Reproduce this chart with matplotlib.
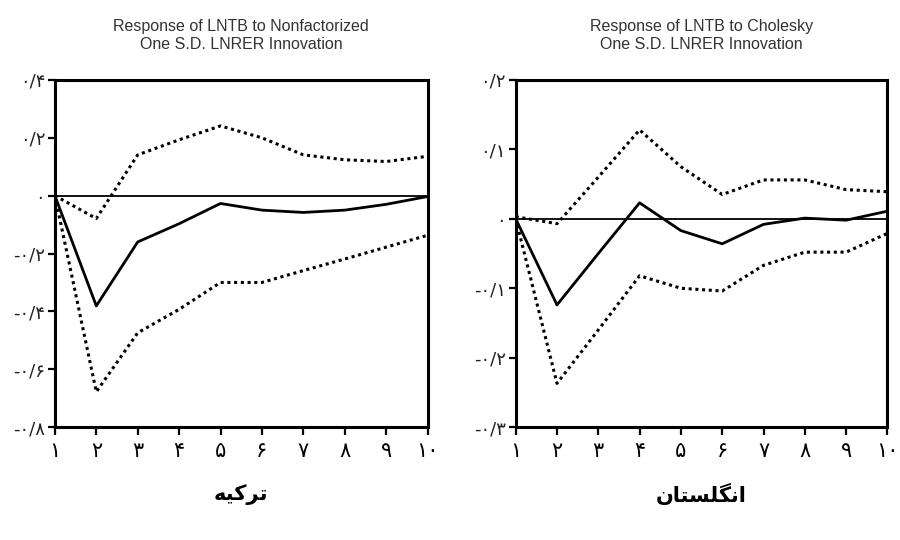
import numpy as np
import matplotlib
matplotlib.use("Agg")
import matplotlib.pyplot as plt

# horizon (periods)
periods = [1, 2, 3, 4, 5, 6, 7, 8, 9, 10]

# Turkey - response of LNTB to nonfactorized one S.D. LNRER innovation
tr_resp = [0.0, -0.381, -0.160, -0.097, -0.027, -0.050, -0.058, -0.050, -0.030, -0.003]
tr_upper = [0.0, -0.079, 0.141, 0.193, 0.241, 0.200, 0.141, 0.124, 0.118, 0.136]
tr_lower = [0.0, -0.678, -0.474, -0.393, -0.300, -0.300, -0.259, -0.219, -0.178, -0.137]

# England - response of LNTB to Cholesky one S.D. LNRER innovation
uk_resp = [0.0, -0.124, -0.050, 0.023, -0.017, -0.036, -0.008, 0.001, -0.002, 0.011]
uk_upper = [0.003, -0.007, 0.060, 0.128, 0.075, 0.035, 0.056, 0.056, 0.042, 0.039]
uk_lower = [0.0, -0.237, -0.160, -0.082, -0.100, -0.104, -0.067, -0.048, -0.048, -0.021]

fa_digits = "۰۱۲۳۴۵۶۷۸۹"

def fa(s):
    return "".join(fa_digits[int(c)] if c.isdigit() else c for c in s)

tr_yticks = [0.4, 0.2, 0.0, -0.2, -0.4, -0.6, -0.8]
uk_yticks = [0.2, 0.1, 0.0, -0.1, -0.2, -0.3]

def ylab(v):
    if v == 0:
        return fa("0")
    s = fa("0/" + str(abs(v)).split(".")[1][0])
    return ("-" if v < 0 else "") + s

titles = ["Response of LNTB to Nonfactorized\nOne S.D. LNRER Innovation",
          "Response of LNTB to Cholesky\nOne S.D. LNRER Innovation"]
# country names in visual order (presentation forms): ترکیه , انگلستان
countries = ["\uFEEA\uFBFF\uFB90\uFEAE\uFE97",
             "\uFEE5\uFE8E\uFE98\uFEB4\uFEE0\uFB95\uFEE7\uFE8D"]

fig = plt.figure(figsize=(9, 5.4), dpi=100)
ax1 = fig.add_axes([0.061, 0.209, 0.414, 0.643])
ax2 = fig.add_axes([0.573, 0.209, 0.413, 0.643])

panels = [
    (ax1, tr_resp, tr_upper, tr_lower, tr_yticks, titles[0], countries[0]),
    (ax2, uk_resp, uk_upper, uk_lower, uk_yticks, titles[1], countries[1]),
]

for ax, resp, up, lo, yt, title, country in panels:
    ax.axhline(0, color="black", lw=1.3, zorder=1)
    ax.plot(periods, resp, color="black", lw=2.0, zorder=3)
    ax.plot(periods, up, color="black", lw=2.2, ls=(0, (1, 1.2)), zorder=2)
    ax.plot(periods, lo, color="black", lw=2.2, ls=(0, (1, 1.2)), zorder=2)
    ax.set_xlim(1, 10)
    ax.set_ylim(min(yt), max(yt))
    ax.set_xticks(periods)
    ax.set_xticklabels([fa(str(p)) for p in periods], fontsize=15,
                       fontfamily="DejaVu Sans")
    ax.set_yticks(yt)
    ax.set_yticklabels([ylab(v) for v in yt], fontsize=13,
                       fontfamily="DejaVu Sans", color="#222222")
    for sp in ax.spines.values():
        sp.set_linewidth(2.2)
    ax.tick_params(axis="both", direction="out", width=1.6, length=6, pad=4)
    ax.tick_params(axis="y", length=5, pad=2)
    ax.set_title(title, fontsize=11.5, fontfamily="Liberation Sans",
                 color="#333333", pad=22, linespacing=1.3)
    ax.text(0.5, -0.195, country, transform=ax.transAxes, ha="center",
            va="center", fontsize=15, fontweight="bold",
            fontfamily="DejaVu Sans")

fig.savefig("out.png", dpi=100)
